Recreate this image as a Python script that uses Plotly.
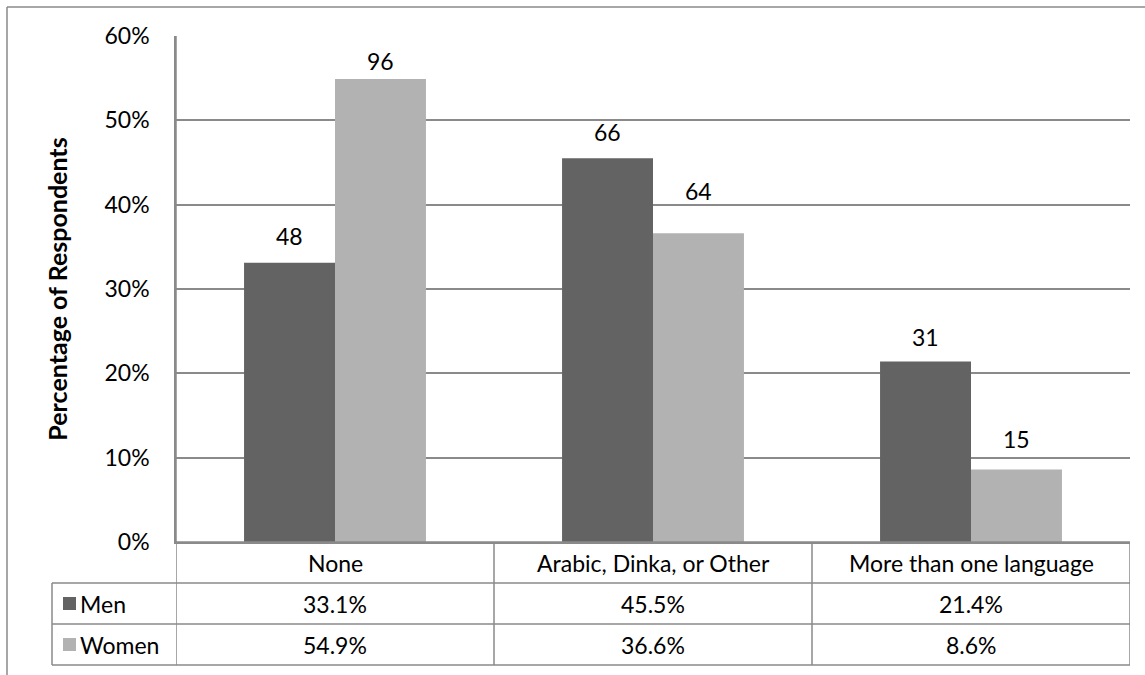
import plotly.graph_objects as go

# Literacy by language, share of respondents by gender
categories = ["None", "Arabic, Dinka, or Other", "More than one language"]
men_pct = [33.1, 45.5, 21.4]
women_pct = [54.9, 36.6, 8.6]
men_n = [48, 66, 31]
women_n = [96, 64, 15]
series_names = ["Men", "Women"]
y_ticks = [0, 10, 20, 30, 40, 50, 60]

MEN_COLOR = "#636363"
WOMEN_COLOR = "#b2b2b2"
LINE = "#8a8a8a"
FONT = "Lato"
FS = 23
BARGAP = 0.428
# pixel lift of each count label above its bar (labels were hand-placed)
MEN_LABEL_LIFT = [11, 10, 9]
WOMEN_LABEL_LIFT = [2, 26, 14]

W, H = 1145, 675
ML, MR, MT, MB = 176, 15, 36, 133
PW, PH = W - ML - MR, H - MT - MB
ROW = 41  # table row height in px


def px_x(px):
    return (px - ML) / PW


def px_y(py):
    return (H - MB - py) / PH


fig = go.Figure()
fig.add_bar(x=list(range(3)), y=[v / 100 for v in men_pct], name=series_names[0],
            marker=dict(color=MEN_COLOR, line=dict(width=0)))
fig.add_bar(x=list(range(3)), y=[v / 100 for v in women_pct], name=series_names[1],
            marker=dict(color=WOMEN_COLOR, line=dict(width=0)))

shapes = []
annotations = []

# count labels above each bar (group of two bars centred on each category)
half = (1 - BARGAP) / 4
for i in range(3):
    for off, pct, n, lift in [(-half, men_pct[i], men_n[i], MEN_LABEL_LIFT[i]),
                              (half, women_pct[i], women_n[i], WOMEN_LABEL_LIFT[i])]:
        annotations.append(dict(x=i + off, y=pct / 100, xref="x", yref="y",
                                text=str(n), showarrow=False, xanchor="center",
                                yanchor="bottom", yshift=lift,
                                font=dict(family=FONT, size=FS, color="#000")))


def hline(x0, x1, y, xref="x"):
    shapes.append(dict(type="line", xref=xref, yref="paper", x0=x0, x1=x1,
                       y0=y, y1=y, line=dict(color=LINE, width=1.5)))


def vline(x, y0, y1, xref="x"):
    shapes.append(dict(type="line", xref=xref, yref="paper", x0=x, x1=x,
                       y0=y0, y1=y1, line=dict(color=LINE, width=1.5)))


# outer chart frame (left and top edges)
vline(px_x(7), px_y(7), px_y(H + 2), xref="paper")
hline(px_x(7), px_x(W + 2), px_y(7), xref="paper")

# data table grid below the plot
base = H - MB
row_tops = [base, base + ROW, base + 2 * ROW, base + 3 * ROW]
legend_left = px_x(52)
hline(-0.5, 2.5, px_y(row_tops[0]))
for r in row_tops[1:]:
    hline(legend_left, px_x(ML + PW), px_y(r), xref="paper")
vline(legend_left, px_y(row_tops[1]), px_y(row_tops[3]), xref="paper")
vline(-0.5, 1, px_y(row_tops[3]))
for b in [0.5, 1.5, 2.5]:
    vline(b, px_y(row_tops[0]), px_y(row_tops[3]))

# category header row
for i, c in enumerate(categories):
    annotations.append(dict(x=i, y=px_y(row_tops[0] + ROW / 2), xref="x", yref="paper",
                            text=c, showarrow=False, xanchor="center", yanchor="middle",
                            font=dict(family=FONT, size=FS, color="#000")))

# value rows with legend keys
for k, (name, vals, col) in enumerate([(series_names[0], men_pct, MEN_COLOR),
                                       (series_names[1], women_pct, WOMEN_COLOR)]):
    yc = row_tops[1 + k] + ROW / 2
    shapes.append(dict(type="rect", xref="paper", yref="paper",
                       x0=px_x(63), x1=px_x(76), y0=px_y(yc + 6.5), y1=px_y(yc - 6.5),
                       fillcolor=col, line=dict(width=0)))
    annotations.append(dict(x=px_x(78), y=px_y(yc), xref="paper", yref="paper",
                            text=name, showarrow=False, xanchor="left", yanchor="middle",
                            font=dict(family=FONT, size=FS, color="#000")))
    for i, v in enumerate(vals):
        annotations.append(dict(x=i, y=px_y(yc), xref="x", yref="paper",
                                text=f"{v:.1f}%", showarrow=False,
                                xanchor="center", yanchor="middle",
                                font=dict(family=FONT, size=FS, color="#000")))

fig.update_layout(
    width=W, height=H,
    margin=dict(l=ML, r=MR, t=MT, b=MB, pad=0),
    paper_bgcolor="white", plot_bgcolor="white",
    barmode="group", bargap=BARGAP, bargroupgap=0,
    showlegend=False,
    shapes=shapes, annotations=annotations,
    font=dict(family=FONT, size=FS, color="#000"),
    xaxis=dict(range=[-0.5, 2.5], showticklabels=False, showgrid=False,
               zeroline=False, showline=True, linecolor=LINE, linewidth=1.5, ticks=""),
    yaxis=dict(range=[0, 0.6], tickvals=[t / 100 for t in y_ticks],
               ticktext=[f"{t}%" for t in y_ticks],
               showgrid=True, gridcolor=LINE, gridwidth=1.5, zeroline=False,
               showline=True, linecolor=LINE, linewidth=1.5, ticks="",
               ticklabelstandoff=20,
               tickfont=dict(family=FONT, size=FS, color="#000"),
               title=dict(text="<b>Percentage of Respondents</b>", standoff=30,
                          font=dict(family=FONT, size=25, color="#000"))),
)

fig.write_html("out.html")
